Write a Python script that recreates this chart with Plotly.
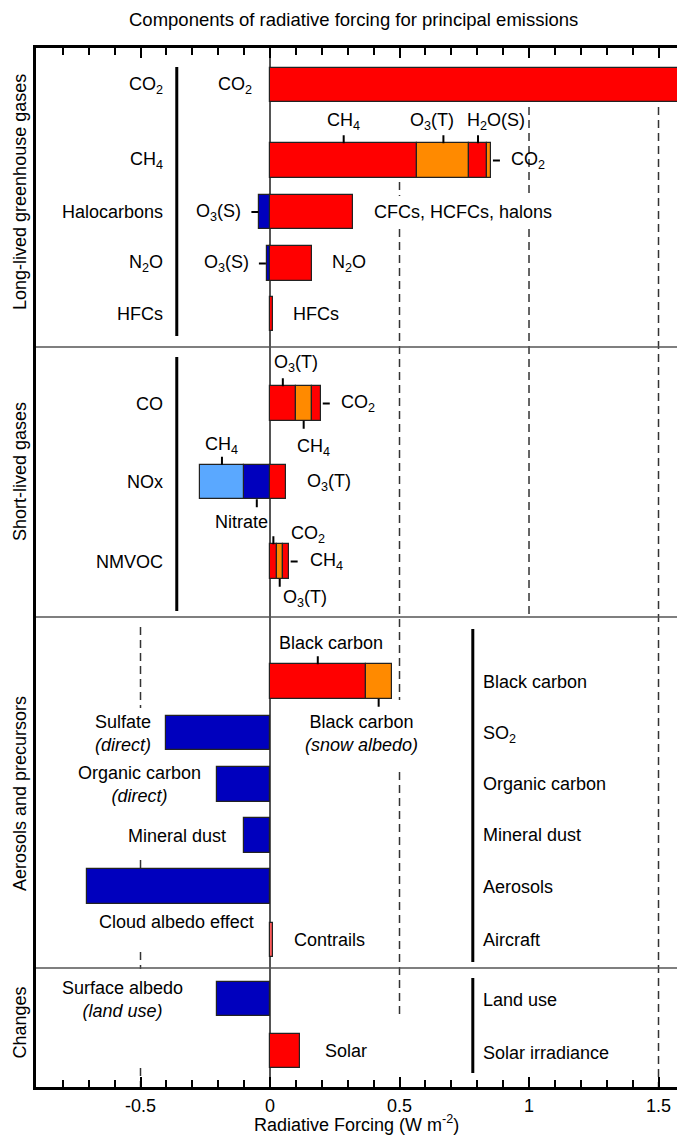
import plotly.graph_objects as go

# ---------------- data ----------------
row_names = ["CO2", "CH4", "Halocarbons", "N2O", "HFCs",
             "CO", "NOx", "NMVOC",
             "Black carbon", "Sulfate", "Organic carbon", "Mineral dust",
             "Cloud albedo", "Contrails",
             "Surface albedo", "Solar"]

# positive components, stacked rightwards from zero (W m-2)
positive = {
    "CO2": [1.60],
    "CH4": [0.569, 0.201, 0.066, 0.017],      # CH4, O3(T), H2O(S), CO2
    "Halocarbons": [0.319],
    "N2O": [0.162],
    "HFCs": [0.011],
    "CO": [0.099, 0.062, 0.035],              # O3(T), CH4, CO2
    "NOx": [0.062],                           # O3(T)
    "NMVOC": [0.026, 0.023, 0.023],           # CO2, O3(T), CH4
    "Black carbon": [0.369, 0.101],           # direct, snow albedo
    "Contrails": [0.010],
    "Solar": [0.117],
}
# negative components, stacked leftwards from zero (W m-2)
negative = {
    "Halocarbons": [-0.041],                  # O3(S)
    "N2O": [-0.012],                          # O3(S)
    "NOx": [-0.102, -0.167],                  # Nitrate, CH4
    "Sulfate": [-0.403],
    "Organic carbon": [-0.203],
    "Mineral dust": [-0.102],
    "Cloud albedo": [-0.705],
    "Surface albedo": [-0.203],
}

tick_vals = [-0.5, 0, 0.5, 1, 1.5]
tick_text = ["-0.5", "0", "0.5", "1", "1.5"]

# ---------------- style / layout ----------------
RED, ORANGE, BLUE, LBLUE, PINK = "#FF0000", "#FF8A00", "#0000BE", "#5AA8FF", "#FF5A5A"
pos_colors = {
    "CO2": [RED], "CH4": [RED, ORANGE, RED, ORANGE], "Halocarbons": [RED],
    "N2O": [RED], "HFCs": [RED], "CO": [RED, ORANGE, RED], "NOx": [RED],
    "NMVOC": [RED, ORANGE, RED], "Black carbon": [RED, ORANGE],
    "Contrails": [PINK], "Solar": [RED],
}
neg_colors = {"NOx": [BLUE, LBLUE]}

# row positions on the (reversed) vertical layout scale
row_y = {"CO2": 85, "CH4": 160.5, "Halocarbons": 212, "N2O": 263.5, "HFCs": 314,
         "CO": 403.5, "NOx": 482, "NMVOC": 561.5,
         "Black carbon": 681.5, "Sulfate": 733, "Organic carbon": 784.5,
         "Mineral dust": 835.5, "Cloud albedo": 886.5, "Contrails": 940,
         "Surface albedo": 999, "Solar": 1051}
BAR_H = 34.5
Y_TOP, Y_BOT = 48, 1087
X_MIN, X_MAX = -0.9035, 1.5714
FONT = "Liberation Sans, Arial, Helvetica, sans-serif"
FS = 18

fig = go.Figure()

def add_seg(row, base, val, color):
    fig.add_trace(go.Bar(
        y=[row_y[row]], x=[val], base=[base], orientation="h", width=BAR_H,
        marker=dict(color=color, line=dict(color="#222222", width=1.2)),
        showlegend=False, hoverinfo="skip"))

seg_bounds = {}
for r in row_names:
    b = 0.0
    bounds_p = []
    for i, v in enumerate(positive.get(r, [])):
        add_seg(r, b, v, pos_colors[r][i])
        bounds_p.append((b, b + v))
        b += v
    b = 0.0
    bounds_n = []
    for i, v in enumerate(negative.get(r, [])):
        col = neg_colors.get(r, [BLUE] * 5)[i]
        add_seg(r, b, v, col)
        bounds_n.append((b, b + v))
        b += v
    seg_bounds[r] = (bounds_p, bounds_n)

# invisible trace to activate the top axis
fig.add_trace(go.Scatter(x=[0], y=[500], xaxis="x2", mode="markers",
                         marker=dict(opacity=0), showlegend=False, hoverinfo="skip"))

shapes = []
# dashed reference lines (x value, y from, y to)
dashed = [(-0.5, 627, 708), (-0.5, 860, 869), (-0.5, 952, 969), (-0.5, 1068, 1087),
          (0.5, 182, 196), (0.5, 229, 700), (0.5, 772, 1015),
          (1.0, 107, 196), (1.0, 229, 617),
          (1.5, 107, 1087)]
for xv, y0, y1 in dashed:
    shapes.append(dict(type="line", xref="x", yref="y", x0=xv, x1=xv, y0=y0, y1=y1,
                       line=dict(color="#333333", width=1.5, dash="8px,5px"), layer="below"))
# section dividers
for yv in [347, 617, 968]:
    shapes.append(dict(type="line", xref="paper", yref="y", x0=0, x1=1, y0=yv, y1=yv,
                       line=dict(color="#555555", width=1.5)))
# group brackets
for xv, y0, y1 in [(-0.360, 67, 336), (-0.360, 357, 611), (0.783, 629, 962), (0.783, 978, 1073)]:
    shapes.append(dict(type="line", xref="x", yref="y", x0=xv, x1=xv, y0=y0, y1=y1,
                       line=dict(color="black", width=3)))

# pointer ticks: (row, sign, segment index or 'end', where)
pointers = [("CH4", 0, 0, "top"), ("CH4", 0, 1, "top"), ("CH4", 0, 2, "top"), ("CH4", 0, "end", "right"),
            ("Halocarbons", 1, "end", "left"), ("N2O", 1, "end", "left"),
            ("CO", 0, 0, "top"), ("CO", 0, 1, "bottom"), ("CO", 0, "end", "right"),
            ("NOx", 1, 1, "top"), ("NOx", 1, 0, "bottom"),
            ("NMVOC", 0, 0, "top"), ("NMVOC", 0, 1, "bottom"), ("NMVOC", 0, "end", "right"),
            ("Black carbon", 0, 0, "top"), ("Black carbon", 0, 1, "bottom")]
PL = 8
for r, s, idx, where in pointers:
    segs = seg_bounds[r][s]
    yc = row_y[r]
    if where in ("top", "bottom"):
        a, bnd = segs[idx]
        xm = (a + bnd) / 2
        if where == "top":
            y0, y1 = yc - BAR_H / 2, yc - BAR_H / 2 - PL
        else:
            y0, y1 = yc + BAR_H / 2, yc + BAR_H / 2 + PL
        shapes.append(dict(type="line", xref="x", yref="y", x0=xm, x1=xm, y0=y0, y1=y1,
                           line=dict(color="black", width=2)))
    else:
        xe = segs[-1][1]
        off = (2, 9) if where == "right" else (-1, -8)
        shapes.append(dict(type="line", xref="x", yref="y", xsizemode="pixel", xanchor=xe,
                           x0=off[0], x1=off[1], y0=yc, y1=yc,
                           line=dict(color="black", width=2)))

ann = []
def txt(t, x, y, xa="center", ya="middle", xref="x", yref="y", angle=0, size=FS):
    ann.append(dict(text=t, x=x, y=y, xref=xref, yref=yref, xanchor=xa, yanchor=ya,
                    showarrow=False, textangle=angle,
                    font=dict(family=FONT, size=size, color="black")))

L = -0.405
# long-lived
txt("CO<sub>2</sub>", L, 85, "right")
txt("CH<sub>4</sub>", L, 160.5, "right")
txt("Halocarbons", L, 212, "right")
txt("N<sub>2</sub>O", L, 263.5, "right")
txt("HFCs", L, 314, "right")
txt("CO<sub>2</sub>", -0.062, 85, "right")
txt("CH<sub>4</sub>", 0.282, 121)
txt("O<sub>3</sub>(T)", 0.625, 121)
txt("H<sub>2</sub>O(S)", 0.871, 121)
txt("CO<sub>2</sub>", 0.923, 160.5, "left")
txt("O<sub>3</sub>(S)", -0.104, 212, "right")
txt("CFCs, HCFCs, halons", 0.394, 212, "left")
txt("O<sub>3</sub>(S)", -0.0745, 263.5, "right")
txt("N<sub>2</sub>O", 0.232, 263.5, "left")
txt("HFCs", 0.080, 314, "left")
# short-lived
txt("CO", L, 403.5, "right")
txt("NOx", L, 482, "right")
txt("NMVOC", L, 561.5, "right")
txt("O<sub>3</sub>(T)", 0.100, 363)
txt("CO<sub>2</sub>", 0.266, 403.5, "left")
txt("CH<sub>4</sub>", 0.166, 447)
txt("CH<sub>4</sub>", -0.189, 445)
txt("O<sub>3</sub>(T)", 0.135, 482, "left")
txt("Nitrate", -0.109, 522)
txt("CO<sub>2</sub>", 0.147, 534)
txt("CH<sub>4</sub>", 0.146, 561.5, "left")
txt("O<sub>3</sub>(T)", 0.137, 598)
# aerosols
txt("Black carbon", 0.234, 643)
txt("Black carbon<br><i>(snow albedo)</i>", 0.355, 733.5)
txt("Sulfate<br><i>(direct)</i>", -0.568, 733.5)
txt("Organic carbon<br><i>(direct)</i>", -0.502, 784.5)
txt("Mineral dust", -0.162, 836, "right")
txt("Cloud albedo effect", -0.360, 922)
txt("Contrails", 0.085, 940, "left")
R = 0.8135
for t, yv in [("Black carbon", 682), ("SO<sub>2</sub>", 734), ("Organic carbon", 784),
              ("Mineral dust", 835), ("Aerosols", 887), ("Aircraft", 940)]:
    txt(t, R, yv, "left")
# changes
txt("Surface albedo<br><i>(land use)</i>", -0.569, 999)
txt("Solar", 0.205, 1051, "left")
txt("Land use", R, 1000, "left")
txt("Solar irradiance", R, 1053, "left")
# section titles
for t, yv in [("Long-lived greenhouse gases", 192), ("Short-lived gases", 471),
              ("Aerosols and precursors", 793), ("Changes", 1022.5)]:
    txt(t, -0.025, yv, xref="paper", angle=-90)
# chart title and axis title
txt("Components of radiative forcing for principal emissions", 0.496, 1.027,
    xref="paper", yref="paper", size=18.5)
txt("Radiative Forcing (W m<sup>-2</sup>)", 0.5, -0.0481, ya="bottom",
    xref="paper", yref="paper")

axis_common = dict(range=[X_MIN, X_MAX], tickmode="array", tickvals=tick_vals,
                   ticks="inside", ticklen=10, tickwidth=2, tickcolor="black",
                   minor=dict(tickmode="linear", tick0=0, dtick=0.1, ticks="inside",
                              ticklen=7, tickwidth=2, tickcolor="black"),
                   showline=True, linewidth=3, linecolor="black", showgrid=False)

fig.update_layout(
    width=677, height=1137,
    margin=dict(l=36, r=0, t=Y_TOP, b=1137 - Y_BOT),
    paper_bgcolor="white", plot_bgcolor="white",
    barmode="overlay", bargap=0,
    showlegend=False,
    xaxis=dict(**axis_common, ticktext=tick_text, showticklabels=True,
               tickfont=dict(family=FONT, size=FS, color="black"),
               zeroline=True, zerolinecolor="#555555", zerolinewidth=1.5),
    xaxis2=dict(**axis_common, overlaying="x", side="top", matches="x",
                showticklabels=False, zeroline=False),
    yaxis=dict(range=[Y_BOT, Y_TOP], showline=True, linewidth=3, linecolor="black",
               showticklabels=False, ticks="", showgrid=False, zeroline=False),
    shapes=shapes, annotations=ann,
)

fig.write_html("out.html", config={"displayModeBar": False},
               post_script="document.body.style.margin='0';document.body.style.overflow='hidden';")
